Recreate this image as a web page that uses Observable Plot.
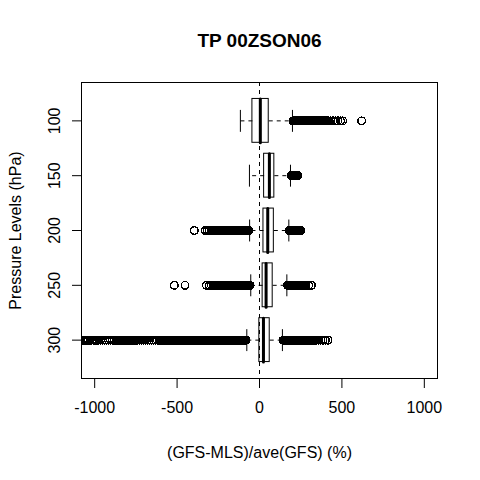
<!DOCTYPE html>
<html>
<head>
<meta charset="utf-8">
<script src="https://cdn.jsdelivr.net/npm/d3@7"></script>
<script src="https://cdn.jsdelivr.net/npm/@observablehq/plot@0.6"></script>
<style>
  html, body { margin: 0; padding: 0; background: white; }
</style>
</head>
<body>
<div id="chart"></div>
<script>
const title = "TP 00ZSON06";
const xLabel = "(GFS-MLS)/ave(GFS) (%)";
const yLabel = "Pressure Levels (hPa)";
const levels = [100, 150, 200, 250, 300];
const xTicks = [-1000, -500, 0, 500, 1000];

const whiskerLow  = [-116, -61, -60, -53, -77];
const q1          = [-43, 28, 24, 19, -1];
const median      = [5, 60, 50, 40, 24];
const q3          = [56, 90, 87, 80, 62];
const whiskerHigh = [200, 188, 178, 166, 139];

const out100 = [203,210,217,224,231,238,245,252,259,266,273,280,287,294,301,308,315,322,329,336,343,350,357,364,371,378,385,392,399,406,413,420,432,445,460,475,492,505,620];
const out150 = [192,198,204,210,216,222,227,233];
const out200 = [-395,-330,-318,-306,-294,-282,-270,-258,-246,-234,-225,-218,-211,-204,-197,-190,-183,-176,-169,-162,-155,-148,-141,-134,-127,-120,-113,-106,-99,-92,-85,-78,-71,-64,
                181,188,195,202,209,216,223,230,237,244,251];
const out250 = [-517,-452,-322,-305,-292,-280,-268,-256,-244,-232,-222,-212,-204,-197,-190,-183,-176,-169,-162,-155,-148,-141,-134,-127,-120,-113,-106,-99,-92,-85,-78,-71,-64,-57,
                170,177,184,191,198,205,212,219,226,233,240,247,254,261,268,275,282,298,315];
const out300 = [-1070,-1062,-1055,-1046,-1038,-1028,-1018,-1008,-998,-986,-975,-963,-952,-940,-928,-916,-905,-894,-882,-870,-858,-846,-834,-822,-810,-798,-786,-774,-762,-750,-738,-726,-714,-702,-690,-678,-666,-654,-642,-630,-620,-610,-600,-593,
                -586,-579,-572,-565,-558,-551,-544,-537,-530,-523,-516,-509,-502,-495,-488,-481,-474,-467,-460,-453,-446,-439,-432,-425,-418,-411,-404,-397,-390,-383,-376,-369,-362,-355,-348,-341,-334,-327,-320,-313,-306,-299,-292,-285,-278,-271,-264,-257,-250,-243,-236,-229,-222,-215,-208,-201,-194,-187,-180,-173,-166,-159,-152,-145,-138,-131,-124,-117,-110,-103,-96,-89,-82,
                143,150,157,164,171,178,185,192,199,206,213,220,227,234,241,248,255,262,269,276,283,290,297,304,311,318,325,332,339,346,360,372,385,400,416];

const outliersByLevel = [out100, out150, out200, out250, out300];

const boxes = levels.map((p, i) => ({
  p, lo: whiskerLow[i], q1: q1[i], med: median[i], q3: q3[i], hi: whiskerHigh[i]
}));
const outliers = levels.flatMap((p, i) => outliersByLevel[i].map(v => ({level: p, value: v})));

const halfBox = 20;   // 0.8 of level spacing (50)
const halfCap = 10;

const chart = Plot.plot({
  width: 480,
  height: 480,
  marginLeft: 81,
  marginRight: 43,
  marginTop: 82,
  marginBottom: 102,
  style: {fontFamily: "'Liberation Sans', Arial, Helvetica, sans-serif", background: "white", color: "black"},
  x: {domain: [-1080, 1080]},
  y: {domain: [65, 335], reverse: true},
  marks: [
    Plot.ruleX([0], {stroke: "black", strokeDasharray: "4,4"}),
    Plot.link(boxes, {x1: "q1", x2: "lo", y1: "p", y2: "p", stroke: "black", strokeDasharray: "4,4"}),
    Plot.link(boxes, {x1: "q3", x2: "hi", y1: "p", y2: "p", stroke: "black", strokeDasharray: "4,4"}),
    Plot.link(boxes, {x1: "lo", x2: "lo", y1: d => d.p - halfCap, y2: d => d.p + halfCap, stroke: "black"}),
    Plot.link(boxes, {x1: "hi", x2: "hi", y1: d => d.p - halfCap, y2: d => d.p + halfCap, stroke: "black"}),
    Plot.rect(boxes, {x1: "q1", x2: "q3", y1: d => d.p - halfBox, y2: d => d.p + halfBox, fill: "none", stroke: "black"}),
    Plot.link(boxes, {x1: "med", x2: "med", y1: d => d.p - halfBox, y2: d => d.p + halfBox, stroke: "black", strokeWidth: 3, strokeLinecap: "round"}),
    Plot.dot(outliers, {x: "value", y: "level", r: 3.8, stroke: "black", fill: "none", strokeWidth: 1.4, shapeRendering: "crispEdges", clip: true}),
    Plot.frame({stroke: "black"}),
    Plot.axisX({ticks: xTicks, tickSize: 10, fill: "none", label: null}),
    Plot.axisY({ticks: levels, tickSize: 9, fill: "none", label: null}),
    Plot.text(xTicks, {x: d => d, frameAnchor: "bottom", dy: 29, text: d => String(d), lineAnchor: "middle", fontSize: 16, fill: "black"}),
    Plot.text(levels, {y: d => d, frameAnchor: "left", dx: -27, rotate: -90, text: d => String(d), textAnchor: "middle", lineAnchor: "middle", fontSize: 16, fill: "black"}),
    Plot.text([title], {frameAnchor: "top", dy: -42, lineAnchor: "middle", fontSize: 19, fontWeight: "bold", fill: "black"}),
    Plot.text([xLabel], {frameAnchor: "bottom", dy: 74, lineAnchor: "middle", fontSize: 16, fill: "black"}),
    Plot.text([yLabel], {frameAnchor: "left", dx: -66, rotate: -90, textAnchor: "middle", lineAnchor: "middle", fontSize: 16, fill: "black"})
  ]
});
document.getElementById("chart").appendChild(chart);
</script>
</body>
</html>
